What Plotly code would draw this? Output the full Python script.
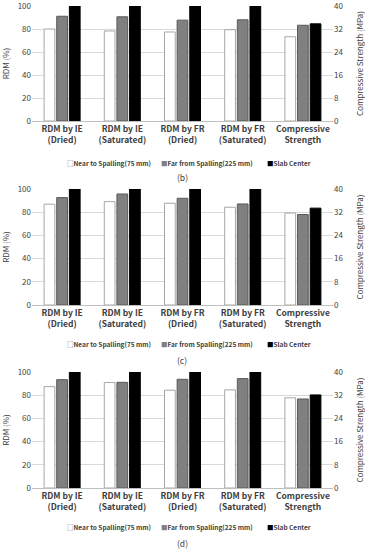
import plotly.graph_objects as go

# ---------------- data ----------------
categories = ["RDM by IE<br>(Dried)", "RDM by IE<br>(Saturated)", "RDM by FR<br>(Dried)",
              "RDM by FR<br>(Saturated)", "Compressive<br>Strength"]
rdm_categories = categories[:4]
cs_categories = categories[4:]
series_names = ["Near to Spalling(75 mm)", "Far from Spalling(225 mm)", "Slab Center"]
panel_labels = ["(b)", "(c)", "(d)"]

# panel (b): RDM (%) and compressive strength (MPa)
b_near = [80.0, 78.3, 77.4, 79.4]
b_far = [91.1, 90.6, 87.7, 88.0]
b_center = [100, 100, 100, 100]
b_cs = [29.3, 33.3, 33.8]  # near, far, center

# panel (c)
c_near = [86.9, 89.1, 87.7, 84.3]
c_far = [92.6, 95.7, 92.0, 87.1]
c_center = [100, 100, 100, 100]
c_cs = [31.7, 31.2, 33.4]

# panel (d)
d_near = [87.4, 90.9, 84.3, 84.6]
d_far = [93.4, 91.1, 93.7, 94.3]
d_center = [100, 100, 100, 100]
d_cs = [31.1, 30.7, 32.1]

rdm_ticks = [0, 20, 40, 60, 80, 100]
cs_ticks = [0, 8, 16, 24, 32, 40]

panels = [
    ([b_near, b_far, b_center], b_cs),
    ([c_near, c_far, c_center], c_cs),
    ([d_near, d_far, d_center], d_cs),
]

# ---------------- style ----------------
W, H = 365, 550
FONT = "Noto Sans CJK KR"
fills = ["#ffffff", "#808080", "#000000"]
lines = ["#a6a6a6", "#595959", "#000000"]
sq_chars = ["□", "■", "■"]
sq_cols = ["#7f7f7f", "#808080", "#000000"]
legend_x_px = [65, 159, 265]

# pixel layout of each panel: (plot top, plot bottom, legend y, label y)
pix = [(6, 121, 163, 177), (189, 305, 344, 360), (372, 488, 527, 543)]
x0, x1 = 32, 333

def py(p):
    return 1 - p / H

def px(p):
    return (p - x0) / (x1 - x0)

fig = go.Figure()
layout = dict(
    width=W, height=H,
    margin=dict(l=x0, r=W - x1, t=0, b=0, pad=0, autoexpand=False),
    paper_bgcolor="white", plot_bgcolor="white",
    barmode="group", bargap=0.37, bargroupgap=0.15,
    showlegend=False, font=dict(family=FONT, size=8, color="#404040"),
)
annotations = []

for i, (rdm_series, cs_vals) in enumerate(panels):
    k = i + 1
    xa = "x" if k == 1 else f"x{k}"
    ya = "y" if k == 1 else f"y{2*k-1}"
    yb = f"y{2*k}"
    for s in range(3):
        common = dict(
            name=series_names[s], offsetgroup=str(s), alignmentgroup=f"p{k}",
            marker=dict(color=fills[s], line=dict(color=lines[s], width=1)),
            xaxis=xa, showlegend=False,
        )
        fig.add_trace(go.Bar(x=rdm_categories, y=rdm_series[s], yaxis=ya, **common))
        fig.add_trace(go.Bar(x=cs_categories, y=[cs_vals[s]], yaxis=yb, **common))

    top, bot, leg_y, lab_y = pix[i]
    dom = [py(bot), py(top)]
    xkey = "xaxis" if k == 1 else f"xaxis{k}"
    yakey = "yaxis" if k == 1 else f"yaxis{2*k-1}"
    ybkey = f"yaxis{2*k}"
    layout[xkey] = dict(
        domain=[0, 1], anchor=ya, type="category",
        categoryorder="array", categoryarray=categories,
        showline=True, linecolor="#bfbfbf", linewidth=1, ticks="",
        tickfont=dict(family=FONT, size=8.5, color="#404040", weight="bold"),
        showgrid=False, fixedrange=True, automargin=False, ticklabeloverflow="allow",
    )
    layout[yakey] = dict(
        domain=dom, anchor=xa, range=[0, 100], tickvals=rdm_ticks,
        showgrid=True, gridcolor="#d9d9d9", gridwidth=1, zeroline=False,
        tickfont=dict(family=FONT, size=8, color="#404040"),
        title=dict(text="RDM (%)", font=dict(family=FONT, size=8, color="#404040")),
        ticks="", fixedrange=True, automargin=False, ticklabeloverflow="allow",
    )
    layout[ybkey] = dict(
        domain=dom, anchor=xa, overlaying=ya, side="right", range=[0, 40],
        tickvals=cs_ticks, showgrid=False, zeroline=False,
        tickfont=dict(family=FONT, size=8, color="#404040"),
        title=dict(text="Compressive Strength (MPa)",
                   font=dict(family=FONT, size=8, color="#404040")),
        ticks="", fixedrange=True, automargin=False, ticklabeloverflow="allow",
    )

    for s in range(3):
        annotations.append(dict(
            text=f"<span style='color:{sq_cols[s]}'>{sq_chars[s]}</span>{series_names[s]}",
            xref="paper", yref="paper", x=px(legend_x_px[s]), y=py(leg_y),
            showarrow=False, xanchor="left", yanchor="middle",
            font=dict(family=FONT, size=6.5, color="#404040", weight="bold"),
        ))
    annotations.append(dict(
        text=panel_labels[i], xref="paper", yref="paper",
        x=px(182), y=py(lab_y), showarrow=False,
        xanchor="center", yanchor="middle",
        font=dict(family=FONT, size=8.5, color="#404040"),
    ))

layout["annotations"] = annotations
fig.update_layout(**layout)
fig.write_html("out.html", config={"displayModeBar": False},
               post_script="document.body.style.margin='0';")
